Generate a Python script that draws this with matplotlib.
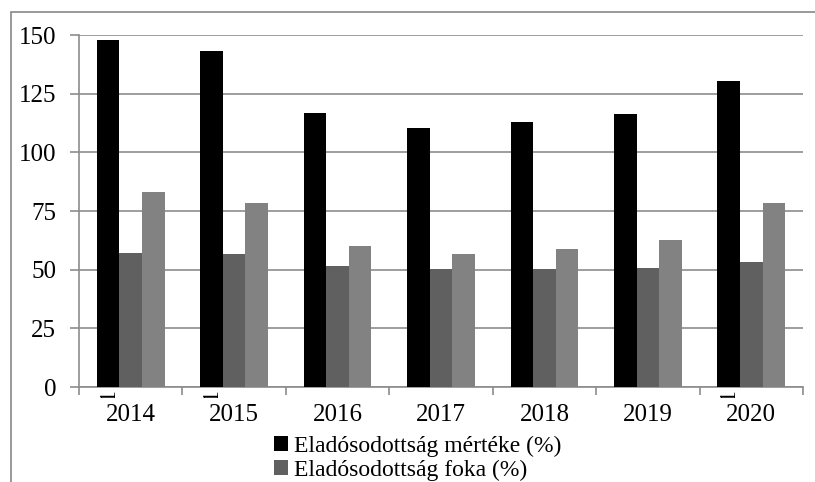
import numpy as np
from matplotlib import pyplot as plt
from matplotlib.patches import Rectangle
from matplotlib.transforms import Bbox

years = ['2014', '2015', '2016', '2017', '2018', '2019', '2020']
merteke = [148, 143, 116.7, 110.4, 113, 116.3, 130.4]
foka = [57.2, 56.5, 51.5, 50.2, 50.3, 50.8, 53.2]
third = [83, 78.5, 60, 56.5, 58.8, 62.5, 78.4]
legend_labels = ['Eladósodottság mértéke (%)', 'Eladósodottság foka (%)']

plt.rcParams['font.family'] = ['Liberation Serif', 'DejaVu Serif']

fig = plt.figure(figsize=(8.15, 4.82), dpi=100)
ax = fig.add_axes([79 / 815, 1 - 387 / 482, (803 - 79) / 815, (387 - 35) / 482])

# outer chart border (cut off at right and bottom)
fig.patches.append(Rectangle((11 / 815, -0.1), 1.2, 1 - 12 / 482 + 0.1,
                             transform=fig.transFigure, fill=False,
                             edgecolor='#888888', linewidth=1.2))

x = np.arange(len(years))
w = 0.218
b1 = ax.bar(x - w, merteke, w, color='#000000', zorder=3)
b2 = ax.bar(x, foka, w, color='#606060', zorder=3)
ax.bar(x + w, third, w, color='#828282', zorder=3)

ax.set_xlim(-0.5, len(years) - 0.5)
ax.set_ylim(0, 150)
ax.set_yticks([0, 25, 50, 75, 100, 125, 150])
ax.yaxis.grid(True, color='#8c8c8c', linewidth=1.2, zorder=0)

ax.set_xticks(x)
ax.set_xticklabels(years)
ax.set_xticks(np.arange(-0.5, len(years)), minor=True)
ax.tick_params(axis='x', which='major', length=0, pad=12.5, labelsize=18)
ax.tick_params(axis='x', which='minor', length=6, color='#8c8c8c', width=1.2)
ax.tick_params(axis='y', length=6.5, color='#8c8c8c', width=1.2, pad=10, labelsize=18)

for s in ['top', 'right']:
    ax.spines[s].set_visible(False)
for s in ['left', 'bottom']:
    ax.spines[s].set_color('#8c8c8c')
    ax.spines[s].set_linewidth(1.2)

# stray rotated "1" labels just under some black bars, mostly hidden
clip = Bbox.from_extents(0, 482 - 398, 815, 482 - 389)
for i in [0, 1, 6]:
    t = ax.text(i - w, -3.0, '1', rotation=90, fontsize=17,
                ha='center', va='center', clip_on=True)
    t.set_clip_box(clip)

fig.legend([b1, b2], legend_labels, loc='upper left',
           bbox_to_anchor=(262 / 815, 1 - 424 / 482), frameon=False,
           fontsize=17, handlelength=0.6, handleheight=0.6,
           handletextpad=0.25, labelspacing=0.1, borderpad=0)

plt.savefig('out.png', dpi=100)
